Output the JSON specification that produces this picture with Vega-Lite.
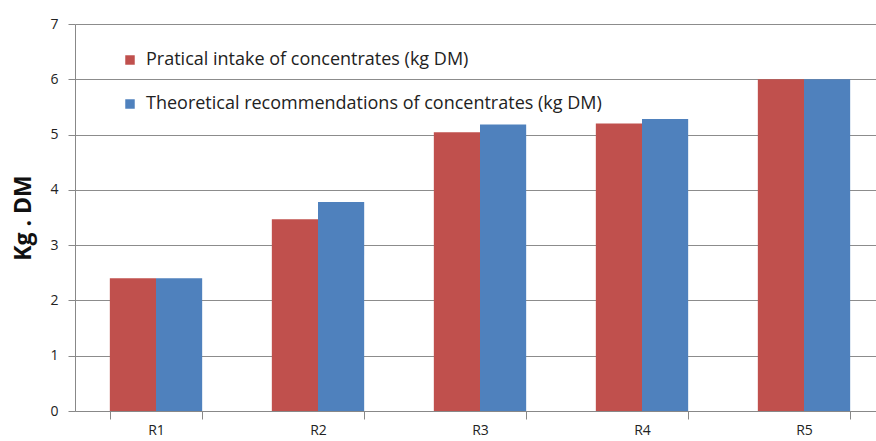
{
  "$schema": "https://vega.github.io/schema/vega-lite/v6.json",
  "width": 810,
  "height": 387,
  "autosize": {"type": "none"},
  "padding": {"left": 75, "top": 24, "right": 0, "bottom": 30},
  "background": "white",
  "data": {
    "values": [
      {"group": "R1", "series": "Pratical intake of concentrates (kg DM)", "value": 2.4},
      {"group": "R1", "series": "Theoretical  recommendations of concentrates (kg DM)", "value": 2.4},
      {"group": "R2", "series": "Pratical intake of concentrates (kg DM)", "value": 3.47},
      {"group": "R2", "series": "Theoretical  recommendations of concentrates (kg DM)", "value": 3.78},
      {"group": "R3", "series": "Pratical intake of concentrates (kg DM)", "value": 5.04},
      {"group": "R3", "series": "Theoretical  recommendations of concentrates (kg DM)", "value": 5.18},
      {"group": "R4", "series": "Pratical intake of concentrates (kg DM)", "value": 5.2},
      {"group": "R4", "series": "Theoretical  recommendations of concentrates (kg DM)", "value": 5.28},
      {"group": "R5", "series": "Pratical intake of concentrates (kg DM)", "value": 6.0},
      {"group": "R5", "series": "Theoretical  recommendations of concentrates (kg DM)", "value": 6.0}
    ]
  },
  "config": {
    "font": "Open Sans",
    "view": {"stroke": null}
  },
  "mark": {"type": "bar"},
  "encoding": {
    "x": {
      "field": "group",
      "type": "nominal",
      "scale": {"paddingInner": 0.43, "paddingOuter": 0.215},
      "axis": {
        "title": null,
        "labelAngle": 0,
        "labelFontSize": 14,
        "labelColor": "#222",
        "labelBaseline": "top",
        "tickBand": "extent",
        "tickSize": 8,
        "tickColor": "#888",
        "domainColor": "#888",
        "labelPadding": 4,
        "grid": false
      }
    },
    "xOffset": {
      "field": "series",
      "type": "nominal",
      "sort": ["Pratical intake of concentrates (kg DM)", "Theoretical  recommendations of concentrates (kg DM)"],
      "scale": {"paddingInner": 0, "paddingOuter": 0}
    },
    "y": {
      "field": "value",
      "type": "quantitative",
      "scale": {"domain": [0, 7], "nice": false},
      "axis": {
        "title": "Kg . DM",
        "titleFontSize": 23,
        "titleFontWeight": "bold",
        "titleColor": "#111",
        "titlePadding": 14,
        "values": [0, 1, 2, 3, 4, 5, 6, 7],
        "labelOverlap": false,
        "labelFontSize": 14,
        "labelColor": "#222",
        "labelPadding": 10,
        "tickSize": 7,
        "tickColor": "#888",
        "domainColor": "#888",
        "gridColor": "#8c8c8c",
        "gridWidth": 1
      }
    },
    "color": {
      "field": "series",
      "type": "nominal",
      "sort": ["Pratical intake of concentrates (kg DM)", "Theoretical  recommendations of concentrates (kg DM)"],
      "scale": {
        "domain": ["Pratical intake of concentrates (kg DM)", "Theoretical  recommendations of concentrates (kg DM)"],
        "range": ["#C0504D", "#4F81BD"]
      },
      "legend": {
        "title": null,
        "orient": "none",
        "legendX": 46,
        "legendY": 27,
        "symbolType": "square",
        "symbolSize": 90,
        "symbolStrokeWidth": 0,
        "labelFontSize": 18,
        "labelColor": "#222",
        "labelOffset": 7,
        "rowPadding": 26,
        "labelLimit": 700
      }
    }
  }
}
